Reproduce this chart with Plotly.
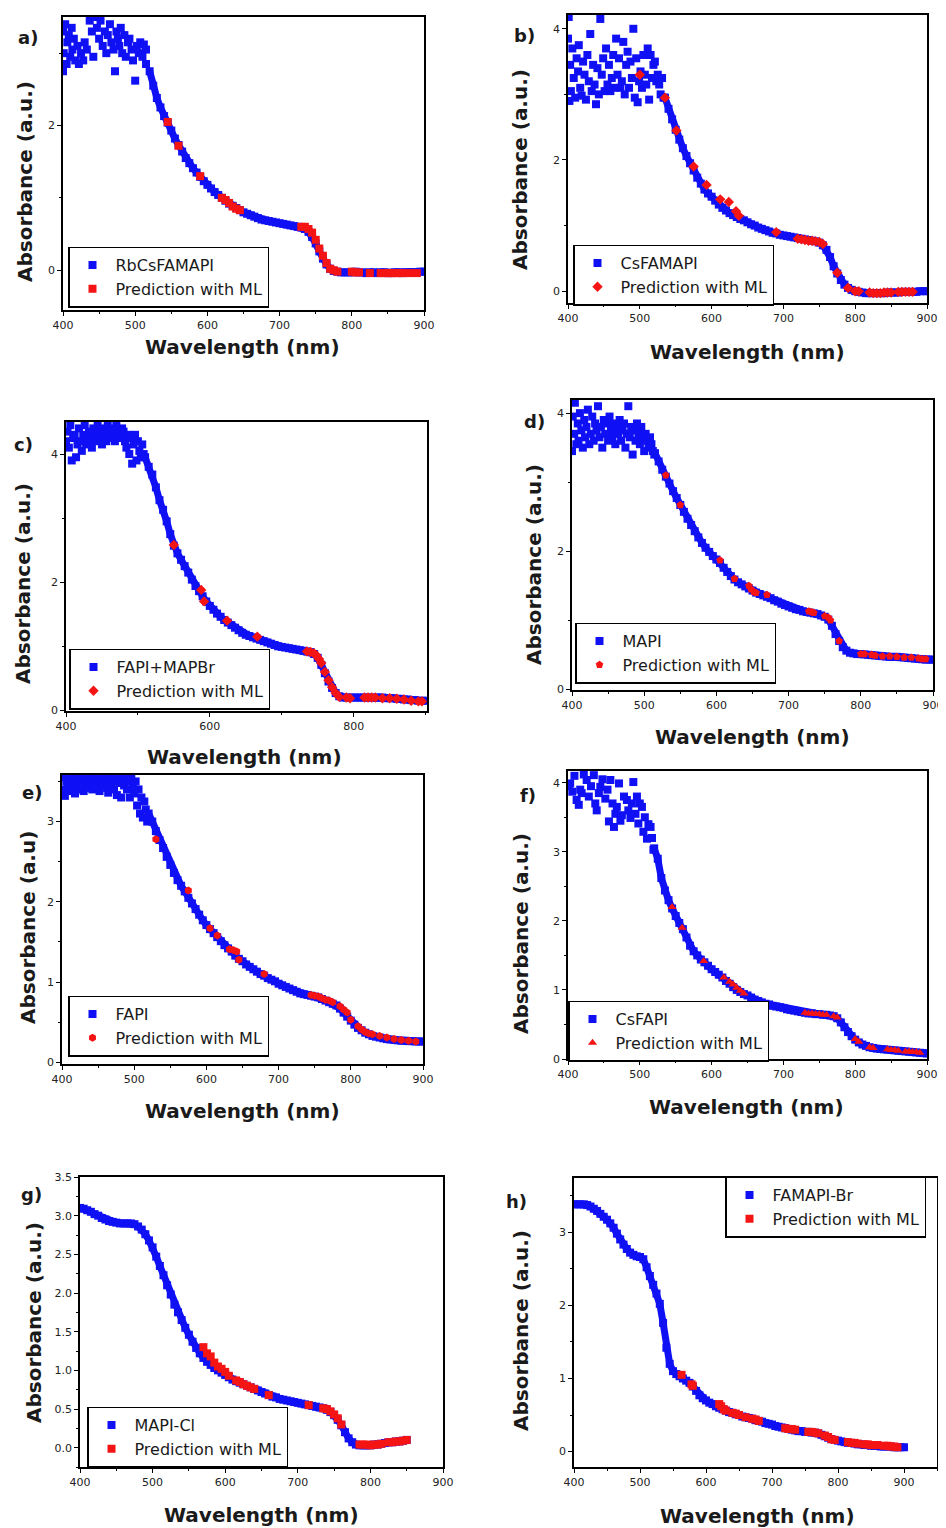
import plotly.graph_objects as go

W, H = 946, 1528          # screenshot size
OFF = 8                   # default page margin of the html body
BLUE = "#1010f5"
RED = "#f51414"
ML_NAME = "Prediction with ML"

# ---------------- data ----------------
# a) RbCsFAMAPI
a_name = "RbCsFAMAPI"
a_cloud_x = [400, 400, 401, 403, 405, 406, 408, 410, 412, 413, 415, 417, 420, 422, 425, 428, 430, 433, 437, 440,
             442, 445, 447, 450, 452, 455, 458, 460, 462, 465, 467, 470, 472, 474, 476, 478, 480, 482, 485, 487,
             490, 492, 495, 497, 500, 502, 505, 507, 510, 512, 515, 515]
a_cloud_y = [3.3, 2.75, 3.0, 3.4, 2.85, 3.15, 3.25, 2.95, 3.35, 3.05, 3.2, 2.9, 3.1, 2.85, 3.0, 2.9, 3.15, 3.05, 3.45, 3.3,
             2.95, 3.5, 3.35, 3.2, 3.45, 3.1, 3.3, 3.0, 3.25, 3.4, 3.15, 3.05, 2.75, 3.3, 3.2, 3.1, 3.35, 3.0, 3.25, 2.95,
             3.15, 3.2, 3.05, 2.9, 2.62, 3.1, 3.0, 3.15, 2.95, 3.12, 3.05, 2.85]
a_wl0 = 520
a_abs = [2.75, 2.55, 2.38, 2.25, 2.13, 2.04, 1.93, 1.82, 1.73, 1.64, 1.55, 1.48, 1.41, 1.35, 1.29, 1.23,
         1.18, 1.13, 1.08, 1.04, 1.00, 0.96, 0.92, 0.89, 0.86, 0.83, 0.80, 0.78, 0.76, 0.74, 0.72, 0.70, 0.69, 0.68, 0.67, 0.66,
         0.65, 0.64, 0.63, 0.62, 0.61, 0.60, 0.59, 0.57, 0.53, 0.46, 0.37, 0.26, 0.16, 0.08, 0.02, -0.01, -0.02, -0.03, -0.03, -0.03,
         -0.03, -0.02, -0.03, -0.03, -0.04, -0.03, -0.03, -0.04, -0.03, -0.03, -0.04, -0.04, -0.03, -0.03, -0.04, -0.03, -0.03,
         -0.03, -0.03, -0.02, -0.02]
a_ml_x = [545, 560, 590, 620, 625, 630, 635, 640, 645, 730, 735, 740, 745, 750, 755, 760, 765, 770, 775, 780,
          800, 805, 810, 825, 840, 845, 850, 855, 860, 865, 870, 880, 890]
a_ml_y = [2.05, 1.72, 1.30, 1.00, 0.97, 0.93, 0.88, 0.85, 0.83, 0.60, 0.60, 0.57, 0.52, 0.42, 0.30, 0.20, 0.10, 0.02, 0.0, -0.02,
          -0.02, -0.03, -0.03, -0.04, -0.04, -0.04, -0.04, -0.04, -0.04, -0.04, -0.04, -0.04, -0.04]

# b) CsFAMAPI
b_name = "CsFAMAPI"
b_cloud_x = [400, 401, 402, 403, 404, 406, 408, 410, 412, 414, 415, 417, 419, 421, 423, 425, 427, 429, 431, 433,
             435, 437, 439, 441, 443, 445, 447, 449, 451, 453, 455, 457, 459, 461, 463, 465, 467, 469, 471, 473,
             475, 477, 479, 481, 483, 485, 487, 489, 491, 493, 495, 497, 499, 501, 503, 505, 507, 509, 511, 513,
             515, 517, 519, 521, 523, 525, 527, 529, 531, 533]
b_cloud_y = [3.85, 4.18, 2.9, 3.45, 3.05, 3.7, 3.25, 2.95, 3.55, 3.35, 3.75, 3.1, 2.98, 3.5, 3.3, 2.92, 3.6, 3.2, 3.92, 3.05,
             3.45, 3.15, 2.85, 3.4, 3.0, 4.15, 3.3, 3.55, 3.05, 3.7, 3.15, 3.45, 3.05, 3.25, 3.6, 3.1, 3.85, 3.3, 3.55, 3.1,
             3.2, 3.8, 3.0, 3.45, 3.65, 3.1, 3.5, 3.25, 4.0, 2.95, 3.55, 2.88, 3.2, 3.35, 3.1, 3.6, 3.3, 3.15, 3.7, 2.92,
             3.6, 3.25, 3.45, 3.5, 3.2, 3.3, 3.15, 3.0, 3.25, 2.95]
b_wl0 = 535
b_abs = [2.95, 2.78, 2.62, 2.46, 2.31, 2.18, 2.06, 1.95, 1.84, 1.73, 1.64, 1.55, 1.49,
         1.44, 1.38, 1.32, 1.27, 1.23, 1.19, 1.16, 1.13, 1.10, 1.08, 1.05, 1.02, 1.00, 0.97, 0.95, 0.93, 0.91, 0.89, 0.88, 0.86,
         0.85, 0.84, 0.83, 0.82, 0.81, 0.80, 0.79, 0.78, 0.77, 0.76, 0.74, 0.70, 0.63, 0.52, 0.38, 0.27, 0.17, 0.10, 0.05, 0.02,
         0.0, -0.01, -0.02, -0.03, -0.03, -0.03, -0.03, -0.03, -0.03, -0.02, -0.02, -0.02, -0.02, -0.01, -0.01, -0.01, -0.01,
         -0.01, 0.0, 0.0, 0.0]
b_ml_x = [500, 535, 551, 575, 593, 612, 624, 634, 638, 690, 720, 725, 730, 735, 740, 745, 750, 755, 775, 790,
          800, 805, 820, 825, 830, 835, 840, 845, 850, 860, 865, 870, 875, 880]
b_ml_y = [3.3, 2.95, 2.45, 1.9, 1.62, 1.40, 1.36, 1.22, 1.15, 0.90, 0.80, 0.79, 0.78, 0.77, 0.77, 0.76, 0.75, 0.72, 0.28, 0.05,
          0.0, 0.0, -0.02, -0.03, -0.03, -0.03, -0.02, -0.02, -0.02, -0.01, -0.01, -0.01, -0.01, -0.01]

# c) FAPI+MAPBr
c_name = "FAPI+MAPBr"
c_cloud_x = [400, 402, 404, 406, 408, 410, 412, 414, 416, 418, 420, 422, 424, 426, 428, 430, 432, 434, 436, 438,
             440, 442, 444, 446, 448, 450, 452, 454, 456, 458, 460, 462, 464, 466, 468, 470, 472, 474, 476, 478,
             480, 482, 484, 486, 488, 490, 492, 494, 496, 498, 500, 502, 504, 506, 508]
c_cloud_y = [4.2, 4.35, 4.1, 4.45, 3.9, 4.25, 4.3, 3.95, 4.15, 4.4, 4.2, 4.05, 4.3, 4.45, 4.15, 4.25, 4.35, 4.2, 4.1, 4.4,
             4.3, 4.2, 4.45, 4.25, 4.35, 4.15, 4.4, 4.3, 4.2, 4.45, 4.35, 4.25, 4.4, 4.3, 4.2, 4.45, 4.38, 4.3, 4.25, 4.4,
             4.35, 4.2, 4.1, 4.3, 4.0, 4.25, 3.85, 4.15, 4.3, 3.9, 4.2, 4.05, 3.95, 4.15, 4.0]
c_wl0 = 510
c_abs = [3.95, 3.8, 3.68, 3.48, 3.28, 3.13, 2.95, 2.75, 2.57, 2.45, 2.35, 2.25, 2.15, 2.04, 1.94, 1.86, 1.78, 1.70,
         1.63, 1.57, 1.51, 1.46, 1.41, 1.37, 1.33, 1.29, 1.25, 1.21, 1.18, 1.16, 1.14, 1.12, 1.10, 1.08, 1.06, 1.04, 1.02, 1.00,
         0.99, 0.98, 0.97, 0.96, 0.95, 0.94, 0.93, 0.92, 0.91, 0.88, 0.82, 0.71, 0.58, 0.45, 0.35, 0.27, 0.22, 0.20, 0.20, 0.20,
         0.20, 0.20, 0.20, 0.20, 0.20, 0.20, 0.20, 0.20, 0.20, 0.19, 0.19, 0.19, 0.18, 0.18, 0.17, 0.17, 0.16, 0.16, 0.15, 0.15, 0.15]
c_ml_x = [550, 588, 592, 624, 666, 735, 740, 745, 748, 752, 755, 760, 765, 770, 775, 780, 790, 795,
          815, 820, 825, 830, 840, 850, 860, 870, 880, 890, 895]
c_ml_y = [2.58, 1.88, 1.70, 1.40, 1.15, 0.92, 0.91, 0.89, 0.86, 0.80, 0.74, 0.60, 0.47, 0.36, 0.27, 0.21, 0.20, 0.19,
          0.20, 0.20, 0.20, 0.20, 0.19, 0.19, 0.18, 0.17, 0.15, 0.14, 0.14]

# d) MAPI
d_name = "MAPI"
d_cloud_x = [400, 401, 403, 404, 406, 408, 409, 411, 413, 415, 417, 418, 420, 422, 424, 426, 428, 430, 432, 434,
             436, 438, 440, 442, 444, 446, 448, 450, 452, 454, 456, 458, 460, 462, 464, 466, 468, 470, 472, 474,
             476, 478, 480, 482, 484, 486, 488, 490, 492, 494, 496, 498, 500, 502, 504, 506, 508, 510, 512, 514]
d_cloud_y = [3.45, 3.95, 3.7, 4.15, 3.55, 3.85, 3.6, 4.0, 3.75, 3.5, 3.9, 3.65, 3.8, 4.05, 3.55, 3.7, 3.95, 3.6, 3.85, 3.75,
             4.1, 3.65, 3.8, 3.5, 3.9, 3.7, 3.85, 3.6, 3.95, 3.75, 3.65, 3.85, 3.55, 3.8, 3.7, 3.9, 3.6, 3.75, 3.85, 3.5,
             3.7, 4.1, 3.65, 3.8, 3.4, 3.75, 3.6, 3.85, 3.7, 3.55, 3.8, 3.65, 3.45, 3.7, 3.6, 3.5, 3.65, 3.55, 3.45, 3.4]
d_wl0 = 515
d_abs = [3.42, 3.3, 3.18, 3.08, 2.98, 2.87, 2.77, 2.67, 2.57, 2.47, 2.38, 2.29, 2.2, 2.12, 2.05, 1.99, 1.93,
         1.88, 1.83, 1.76, 1.70, 1.64, 1.59, 1.55, 1.52, 1.49, 1.46, 1.43, 1.40, 1.38, 1.36, 1.34, 1.32, 1.29, 1.27, 1.24, 1.22,
         1.20, 1.18, 1.16, 1.15, 1.13, 1.12, 1.11, 1.10, 1.09, 1.07, 1.05, 1.01, 0.92, 0.80, 0.70, 0.61, 0.56, 0.53, 0.52, 0.51,
         0.51, 0.505, 0.50, 0.495, 0.49, 0.485, 0.48, 0.475, 0.47, 0.47, 0.47, 0.465, 0.46, 0.455, 0.45, 0.445, 0.44, 0.435,
         0.43, 0.43, 0.43]
d_ml_x = [530, 550, 605, 625, 645, 648, 652, 655, 670, 728, 732, 735, 750, 755, 758, 770,
          800, 805, 815, 820, 830, 840, 850, 860, 870, 880, 885, 890]
d_ml_y = [3.1, 2.67, 1.87, 1.60, 1.50, 1.45, 1.41, 1.40, 1.37, 1.13, 1.12, 1.11, 1.06, 1.04, 1.00, 0.70,
          0.51, 0.51, 0.50, 0.49, 0.48, 0.48, 0.47, 0.46, 0.46, 0.45, 0.44, 0.44]

# e) FAPI
e_name = "FAPI"
e_cloud_x = [400, 402, 404, 406, 408, 410, 412, 414, 416, 418, 420, 422, 424, 426, 428, 430, 432, 434, 436, 438,
             440, 442, 444, 446, 448, 450, 452, 454, 456, 458, 460, 462, 464, 466, 468, 470, 472, 474, 476, 478,
             480, 482, 484, 486, 488, 490, 492, 494, 496, 498, 500, 502, 504, 506, 508, 510, 512, 514, 516, 518]
e_cloud_y = [3.4, 3.55, 3.32, 3.5, 3.45, 3.38, 3.56, 3.42, 3.5, 3.35, 3.48, 3.55, 3.4, 3.52, 3.45, 3.38, 3.56, 3.5, 3.42, 3.55,
             3.48, 3.4, 3.52, 3.56, 3.45, 3.5, 3.38, 3.55, 3.48, 3.42, 3.56, 3.5, 3.36, 3.52, 3.45, 3.55, 3.4, 3.5, 3.33, 3.55,
             3.48, 3.3, 3.52, 3.45, 3.56, 3.4, 3.5, 3.3, 3.55, 3.42, 3.35, 3.5, 3.2, 3.4, 3.1, 3.3, 3.05, 3.25, 3.15, 3.0]
e_wl0 = 520
e_abs = [3.1, 3.0, 2.88, 2.77, 2.67, 2.56, 2.46, 2.36, 2.27, 2.2, 2.13, 2.05, 1.98, 1.91, 1.84, 1.77,
         1.71, 1.66, 1.61, 1.56, 1.51, 1.46, 1.42, 1.38, 1.33, 1.29, 1.26, 1.22, 1.19, 1.16, 1.13, 1.10, 1.08, 1.05, 1.03, 1.01,
         0.98, 0.96, 0.94, 0.92, 0.90, 0.88, 0.86, 0.85, 0.84, 0.83, 0.82, 0.81, 0.79, 0.77, 0.75, 0.73, 0.71, 0.67, 0.62, 0.57,
         0.52, 0.47, 0.43, 0.40, 0.37, 0.35, 0.33, 0.32, 0.31, 0.30, 0.29, 0.285, 0.28, 0.275, 0.27, 0.27, 0.265, 0.265, 0.26,
         0.26, 0.26]
e_ml_x = [530, 575, 605, 615, 632, 637, 642, 645, 680, 745, 750, 755, 760, 765, 770, 775, 785, 790, 795, 800,
          810, 815, 820, 825, 830, 840, 850, 860, 870, 880, 890]
e_ml_y = [2.78, 2.14, 1.67, 1.58, 1.41, 1.40, 1.38, 1.28, 1.10, 0.84, 0.83, 0.82, 0.80, 0.78, 0.77, 0.75, 0.70, 0.66, 0.62, 0.53,
          0.45, 0.41, 0.38, 0.36, 0.35, 0.33, 0.31, 0.29, 0.28, 0.27, 0.26]

# f) CsFAPI
f_name = "CsFAPI"
f_cloud_x = [401, 403, 406, 409, 412, 415, 417, 419, 422, 426, 429, 432, 436, 438, 440, 443, 445, 448, 452, 455,
             457, 459, 462, 464, 466, 468, 471, 473, 475, 478, 482, 484, 487, 489, 491, 494, 496, 498, 500, 503,
             505, 507, 510, 512, 515, 517, 519]
f_cloud_y = [3.95, 3.99, 3.87, 4.1, 3.75, 3.68, 3.9, 3.85, 4.12, 4.04, 3.8, 3.95, 4.11, 3.7, 3.6, 3.85, 3.94, 4.05, 3.77, 3.9,
             3.44, 4.04, 3.7, 3.36, 3.55, 3.65, 3.99, 3.45, 3.53, 3.8, 3.75, 3.6, 3.49, 3.7, 4.01, 3.55, 3.8, 3.41, 3.7, 3.65,
             3.29, 3.5, 3.19, 3.4, 3.36, 3.2, 3.03]
f_wl0 = 520
f_abs = [3.05, 2.9, 2.62, 2.44, 2.3, 2.18, 2.07, 1.97, 1.88, 1.76, 1.64, 1.56, 1.5, 1.44, 1.4, 1.35,
         1.30, 1.26, 1.22, 1.18, 1.13, 1.09, 1.04, 1.0, 0.97, 0.94, 0.92, 0.89, 0.86, 0.84, 0.82, 0.80, 0.79, 0.77, 0.76, 0.75,
         0.74, 0.72, 0.71, 0.70, 0.69, 0.68, 0.67, 0.66, 0.66, 0.65, 0.65, 0.64, 0.64, 0.63, 0.62, 0.59, 0.53, 0.46, 0.39, 0.33,
         0.28, 0.24, 0.21, 0.19, 0.17, 0.16, 0.15, 0.145, 0.14, 0.135, 0.13, 0.125, 0.12, 0.115, 0.11, 0.105, 0.10, 0.095,
         0.09, 0.085, 0.08]
f_ml_x = [545, 559, 589, 617, 625, 630, 635, 640, 645, 730, 735, 740, 745, 750, 755, 760, 770, 775, 800, 805,
          820, 825, 845, 850, 855, 860, 870, 875, 880, 885, 890]
f_ml_y = [2.2, 1.9, 1.42, 1.18, 1.12, 1.08, 1.03, 0.99, 0.95, 0.67, 0.66, 0.66, 0.65, 0.65, 0.64, 0.64, 0.62, 0.60, 0.29, 0.25,
          0.17, 0.16, 0.14, 0.13, 0.13, 0.12, 0.11, 0.11, 0.10, 0.10, 0.09]

# g) MAPI-Cl
g_name = "MAPI-Cl"
g_cloud_x = []
g_cloud_y = []
g_wl0 = 400
g_abs = [3.10, 3.09, 3.07, 3.05, 3.02, 3.0, 2.97, 2.95, 2.93, 2.92, 2.91, 2.90, 2.90, 2.90, 2.90, 2.89, 2.86, 2.82, 2.76, 2.68,
         2.59, 2.47, 2.35, 2.23, 2.10, 1.98, 1.85, 1.75, 1.65, 1.55, 1.46, 1.37, 1.29, 1.22, 1.16, 1.11, 1.07, 1.03, 1.0, 0.97,
         0.94, 0.91, 0.88, 0.86, 0.84, 0.82, 0.80, 0.78, 0.76, 0.74, 0.72, 0.70, 0.68, 0.66, 0.65, 0.63, 0.62, 0.61, 0.60, 0.59,
         0.58, 0.57, 0.56, 0.55, 0.54, 0.53, 0.52, 0.51, 0.49, 0.46, 0.42, 0.36, 0.29, 0.20, 0.12, 0.07, 0.04, 0.03, 0.03, 0.03,
         0.03, 0.04, 0.04, 0.05, 0.06, 0.07, 0.07, 0.08, 0.08, 0.09, 0.10]
g_ml_x = [570, 575, 580, 585, 590, 595, 600, 605, 615, 620, 625, 630, 635, 640, 660, 715, 735, 740, 745, 750, 755, 760,
          785, 790, 795, 800, 805, 810, 815, 825, 830, 835, 840, 845, 850]
g_ml_y = [1.30, 1.22, 1.18, 1.10, 1.05, 1.02, 0.98, 0.93, 0.87, 0.85, 0.82, 0.80, 0.78, 0.76, 0.68, 0.55, 0.51, 0.50, 0.47, 0.43, 0.38, 0.30,
          0.04, 0.04, 0.04, 0.03, 0.04, 0.04, 0.05, 0.07, 0.07, 0.08, 0.08, 0.09, 0.10]

# h) FAMAPI-Br
h_name = "FAMAPI-Br"
h_cloud_x = []
h_cloud_y = []
h_wl0 = 400
h_abs = [3.38, 3.38, 3.38, 3.38, 3.37, 3.35, 3.32, 3.29, 3.25, 3.21, 3.17, 3.12, 3.06, 2.98, 2.90, 2.83, 2.77, 2.72, 2.69, 2.67,
         2.66, 2.63, 2.52, 2.40, 2.28, 2.16, 2.02, 1.76, 1.42, 1.20, 1.10, 1.06, 1.03, 1.00, 0.97, 0.94, 0.89, 0.83, 0.77, 0.73,
         0.70, 0.67, 0.65, 0.62, 0.60, 0.58, 0.56, 0.54, 0.53, 0.51, 0.50, 0.48, 0.47, 0.46, 0.45, 0.43, 0.42, 0.41, 0.39, 0.38,
         0.37, 0.35, 0.34, 0.33, 0.32, 0.31, 0.30, 0.29, 0.28, 0.28, 0.27, 0.27, 0.26, 0.26, 0.25, 0.23, 0.21, 0.19, 0.17, 0.16,
         0.15, 0.14, 0.13, 0.12, 0.12, 0.11, 0.10, 0.10, 0.09, 0.09, 0.08, 0.08, 0.08, 0.07, 0.07, 0.07, 0.07, 0.06, 0.06, 0.06, 0.06]
h_ml_x = [563, 578, 580, 620, 623, 627, 630, 640, 645, 650, 660, 670, 675, 680, 720, 725, 730, 735, 755, 760, 765, 770,
          780, 785, 790, 795, 815, 820, 825, 830, 840, 845, 850, 855, 860, 870, 875, 880, 885, 890]
h_ml_y = [1.05, 0.92, 0.90, 0.65, 0.62, 0.58, 0.56, 0.53, 0.52, 0.50, 0.47, 0.45, 0.44, 0.42, 0.32, 0.31, 0.31, 0.30, 0.27, 0.27, 0.26, 0.25,
          0.22, 0.20, 0.17, 0.16, 0.13, 0.12, 0.12, 0.11, 0.10, 0.10, 0.09, 0.09, 0.09, 0.08, 0.08, 0.07, 0.07, 0.06]

# ---------------- panel layout (pixel boxes in the screenshot) ----------------
# leg = (left edge, vertical centre) of the legend box
panels = [
    dict(tag="a)", name=a_name, cx=a_cloud_x, cy=a_cloud_y, wl0=a_wl0, ab=a_abs, mx=a_ml_x, my=a_ml_y,
         box=(63, 17, 424, 310), xr=[400, 900], yr=[-0.55, 3.5], xd=100, yd=2, yfmt="d",
         ytitle="Absorbance (a.u.)", yt=(25, 182), xt=(242, 347), lt=(28, 37), leg=(68, 277), rsym="square"),
    dict(tag="b)", name=b_name, cx=b_cloud_x, cy=b_cloud_y, wl0=b_wl0, ab=b_abs, mx=b_ml_x, my=b_ml_y,
         box=(568, 15, 927, 303), xr=[400, 900], yr=[-0.18, 4.21], xd=100, yd=2, yfmt="d",
         ytitle="Absorbance (a.u.)", yt=(520, 170), xt=(747, 352), lt=(524, 36), leg=(573, 275), rsym="diamond"),
    dict(tag="c)", name=c_name, cx=c_cloud_x, cy=c_cloud_y, wl0=c_wl0, ab=c_abs, mx=c_ml_x, my=c_ml_y,
         box=(66, 422, 427, 711), xr=[400, 902], yr=[-0.01, 4.5], xd=200, yd=2, yfmt="d",
         ytitle="Absorbance (a.u.)", yt=(23, 584), xt=(245, 757), lt=(23, 445), leg=(69, 679), rsym="diamond"),
    dict(tag="d)", name=d_name, cx=d_cloud_x, cy=d_cloud_y, wl0=d_wl0, ab=d_abs, mx=d_ml_x, my=d_ml_y,
         box=(572, 400, 933, 690), xr=[400, 900], yr=[-0.01, 4.19], xd=100, yd=2, yfmt="d",
         ytitle="Absorbance (a.u.)", yt=(534, 565), xt=(752, 737), lt=(534, 421), leg=(575, 653), rsym="pentagon"),
    dict(tag="e)", name=e_name, cx=e_cloud_x, cy=e_cloud_y, wl0=e_wl0, ab=e_abs, mx=e_ml_x, my=e_ml_y,
         box=(62, 775, 423, 1064), xr=[400, 900], yr=[-0.02, 3.58], xd=100, yd=1, yfmt="d",
         ytitle="Absorbance (a.u)", yt=(28, 928), xt=(242, 1111), lt=(32, 792), leg=(68, 1026), rsym="hexagon"),
    dict(tag="f)", name=f_name, cx=f_cloud_x, cy=f_cloud_y, wl0=f_wl0, ab=f_abs, mx=f_ml_x, my=f_ml_y,
         box=(568, 771, 927, 1059), xr=[400, 900], yr=[0.0, 4.17], xd=100, yd=1, yfmt="d",
         ytitle="Absorbance (a.u.)", yt=(521, 934), xt=(746, 1107), lt=(528, 796), leg=(568, 1031), rsym="triangle-up"),
    dict(tag="g)", name=g_name, cx=g_cloud_x, cy=g_cloud_y, wl0=g_wl0, ab=g_abs, mx=g_ml_x, my=g_ml_y,
         box=(80, 1177, 443, 1467), xr=[400, 900], yr=[-0.25, 3.5], xd=100, yd=0.5, yfmt=".1f",
         ytitle="Absorbance (a.u.)", yt=(34, 1323), xt=(261, 1515), lt=(31, 1194), leg=(87, 1437), rsym="square"),
    dict(tag="h)", name=h_name, cx=h_cloud_x, cy=h_cloud_y, wl0=h_wl0, ab=h_abs, mx=h_ml_x, my=h_ml_y,
         box=(574, 1178, 937, 1467), xr=[400, 950], yr=[-0.21, 3.74], xd=100, yd=1, yfmt="d",
         ytitle="Absorbance (a.u.)", yt=(521, 1331), xt=(757, 1516), lt=(516, 1201), leg=(725, 1207), rsym="square"),
]

TITLE_FONT = dict(family="DejaVu Sans", size=20, color="#1a1a1a")
TICK_FONT = dict(family="DejaVu Sans", size=11, color="#222222")
LEG_FONT = dict(family="DejaVu Sans", size=16, color="#1a1a1a")

FW, FH = W - OFF, H - OFF   # figure size so that it fills the window after the body margin


def px(x):
    return (x - OFF) / FW


def py(y):
    return 1 - (y - OFF) / FH


fig = go.Figure()
layout = {}
annotations = []

for i, p in enumerate(panels, start=1):
    sfx = "" if i == 1 else str(i)
    wl = [p["wl0"] + 5 * k for k in range(len(p["ab"]))]
    # thick connecting band underneath the smooth part of the measured spectrum
    fig.add_trace(go.Scatter(
        x=wl, y=p["ab"], mode="lines", showlegend=False, hoverinfo="skip",
        line=dict(color=BLUE, width=7),
        xaxis="x" + sfx, yaxis="y" + sfx, legend="legend" + sfx))
    bx = list(p["cx"]) + wl
    by = list(p["cy"]) + list(p["ab"])
    fig.add_trace(go.Scatter(
        x=bx, y=by, mode="markers", name=p["name"],
        marker=dict(symbol="square", size=8, color=BLUE),
        xaxis="x" + sfx, yaxis="y" + sfx, legend="legend" + sfx))
    fig.add_trace(go.Scatter(
        x=p["mx"], y=p["my"], mode="markers", name=ML_NAME,
        marker=dict(symbol=p["rsym"], size=8, color=RED),
        xaxis="x" + sfx, yaxis="y" + sfx, legend="legend" + sfx))

    l, t, r, b = p["box"]
    common = dict(showline=True, linecolor="black", linewidth=1.5, mirror=True,
                  ticks="outside", ticklen=4, tickwidth=1.2, tickcolor="black",
                  showgrid=False, zeroline=False, tickfont=TICK_FONT, fixedrange=True,
                  automargin=False)
    layout["xaxis" + sfx] = dict(domain=[px(l), px(r)], anchor="y" + sfx, range=p["xr"],
                                 tickmode="linear", tick0=400, dtick=p["xd"],
                                 minor=dict(ticks="outside", ticklen=2.5, dtick=p["xd"] / 2,
                                            tickcolor="black", showgrid=False),
                                 **common)
    layout["yaxis" + sfx] = dict(domain=[py(b), py(t)], anchor="x" + sfx, range=p["yr"],
                                 tickmode="linear", tick0=0, dtick=p["yd"], tickformat=p["yfmt"],
                                 minor=dict(ticks="outside", ticklen=2.5, dtick=p["yd"] / 2,
                                            tickcolor="black", showgrid=False),
                                 **common)
    lx, ly = p["leg"]
    layout["legend" + sfx] = dict(x=px(lx), y=py(ly), xanchor="left", yanchor="middle",
                                  bgcolor="white", bordercolor="black", borderwidth=1.5,
                                  font=LEG_FONT, itemwidth=36, tracegroupgap=0,
                                  itemclick=False, itemdoubleclick=False)

    annotations.append(dict(text="<b>Wavelength (nm)</b>", x=px(p["xt"][0]), y=py(p["xt"][1]),
                            xref="paper", yref="paper", xanchor="center", yanchor="middle",
                            showarrow=False, font=TITLE_FONT))
    annotations.append(dict(text="<b>" + p["ytitle"] + "</b>", x=px(p["yt"][0]), y=py(p["yt"][1]),
                            xref="paper", yref="paper", xanchor="center", yanchor="middle",
                            textangle=-90, showarrow=False, font=TITLE_FONT))
    annotations.append(dict(text="<b>" + p["tag"] + "</b>", x=px(p["lt"][0]), y=py(p["lt"][1]),
                            xref="paper", yref="paper", xanchor="center", yanchor="middle",
                            showarrow=False, font=dict(family="DejaVu Sans", size=18, color="#1a1a1a")))

fig.update_layout(
    width=FW, height=FH,
    margin=dict(l=0, r=0, t=0, b=0, autoexpand=False),
    paper_bgcolor="white", plot_bgcolor="white",
    annotations=annotations,
    **layout,
)

fig.write_html("out.html")
